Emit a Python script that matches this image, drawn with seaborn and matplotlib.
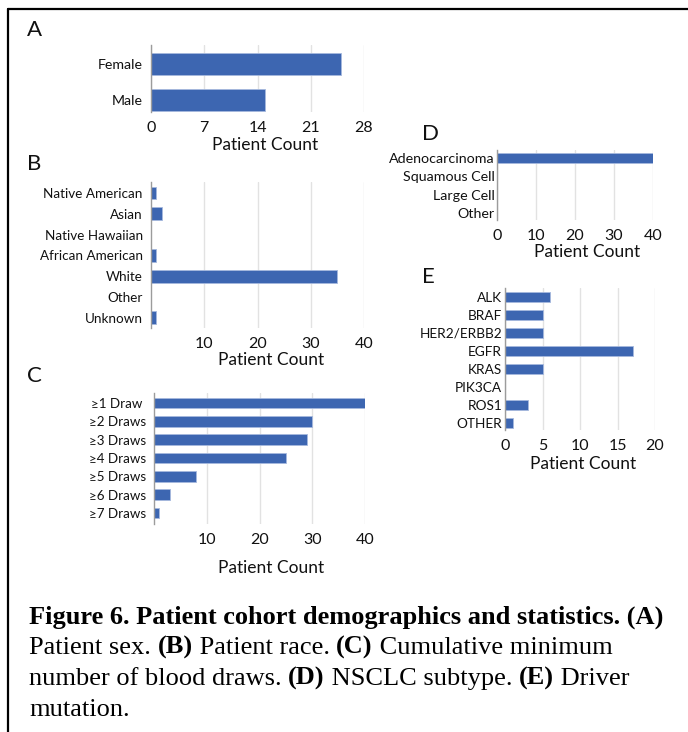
import pandas as pd
import seaborn as sns
import matplotlib.pyplot as plt
from matplotlib.lines import Line2D

# values
sex = ["Female", "Male"]
sex_n = [25, 15]

race = ["Native American", "Asian", "Native Hawaiian", "African American",
        "White", "Other", "Unknown"]
race_n = [1, 2, 0, 1, 35, 0, 1]

draws = ["≥1 Draw ", "≥2 Draws", "≥3 Draws", "≥4 Draws", "≥5 Draws",
         "≥6 Draws", "≥7 Draws"]
draws_n = [40, 30, 29, 25, 8, 3, 1]

subtype = ["Adenocarcinoma", "Squamous Cell", "Large Cell", "Other"]
subtype_n = [40, 0, 0, 0]

mutation = ["ALK", "BRAF", "HER2/ERBB2", "EGFR", "KRAS", "PIK3CA", "ROS1", "OTHER"]
mutation_n = [6, 5, 5, 17, 5, 0, 3, 1]

W, H = 688, 732
BLUE = "#3d66b1"
SANS = ["Lato", "DejaVu Sans"]
SERIF = ["Liberation Serif", "DejaVu Serif"]

sns.set_style("white")
plt.rcParams["font.family"] = SANS
plt.rcParams["text.color"] = "#111111"
plt.rcParams["axes.labelcolor"] = "#111111"
plt.rcParams["xtick.color"] = "#111111"
plt.rcParams["ytick.color"] = "#111111"

fig = plt.figure(figsize=(W / 100, H / 100), dpi=100)


def fx(px):
    return px / W


def fy(py):
    return 1 - py / H


def panel(letter, cats, counts, box, row0, step, xticks, xmax, bar_w,
          ypad, ysize, label_at, letter_at):
    left, top, right, bottom = box
    ax = fig.add_axes([fx(left), fy(bottom), (right - left) / W, (bottom - top) / H])
    df = pd.DataFrame({"cat": cats, "n": counts})
    sns.barplot(data=df, x="n", y="cat", orient="h", color=BLUE, saturation=1,
                width=bar_w, edgecolor="#a6b9de", linewidth=0.6, errorbar=None, ax=ax)
    n = len(cats)
    last = row0 + (n - 1) * step
    ax.set_ylim((n - 1) + (bottom - last) / step, -(row0 - top) / step)
    ax.set_xlim(0, xmax)
    ax.set_xticks(xticks)
    ax.grid(axis="x", color="#e2e2e2", lw=1)
    ax.grid(axis="y", visible=False)
    ax.set_axisbelow(True)
    for s in ["top", "right", "bottom"]:
        ax.spines[s].set_visible(False)
    ax.spines["left"].set_color("#9c9c9c")
    ax.spines["left"].set_linewidth(1)
    ax.tick_params(axis="both", length=0)
    ax.tick_params(axis="x", labelsize=11.5, pad=6.5)
    ax.tick_params(axis="y", labelsize=ysize, pad=ypad)
    ax.set_ylabel("")
    ax.set_xlabel("Patient Count", fontsize=12.5)
    ax.xaxis.set_label_coords(fx(label_at[0]), fy(label_at[1]), transform=fig.transFigure)
    fig.text(fx(letter_at[0]), fy(letter_at[1]), letter, fontsize=16,
             ha="left", va="top")
    return ax


panel("A", sex, sex_n, (151, 45, 364, 112), 64, 36, [0, 7, 14, 21, 28], 28,
      0.61, 6, 10.2, (265, 137), (27, 20))
panel("B", race, race_n, (151, 182, 364, 328), 193, 20.8, [10, 20, 30, 40], 40,
      0.61, 6, 9.7, (271, 352), (27, 154))
panel("C", draws, draws_n, (154, 393, 365, 524), 403, 18.33, [10, 20, 30, 40], 40,
      0.58, 6, 9.6, (271, 560), (27, 366))
panel("D", subtype, subtype_n, (497, 150, 653, 220), 158, 18.3, [0, 10, 20, 30, 40], 40,
      0.55, 1.5, 10.3, (587, 244), (422, 124))
panel("E", mutation, mutation_n, (505, 288, 655, 430), 297, 18, [0, 5, 10, 15, 20], 20,
      0.59, 2, 9.8, (583, 456), (422, 267))

# frame lines around the figure
fig.add_artist(Line2D([fx(8), fx(W)], [fy(9), fy(9)], color="black", lw=1.6))
fig.add_artist(Line2D([fx(8), fx(8)], [fy(9), fy(H)], color="black", lw=1.6))

# caption with mixed bold / regular runs
caption = [
    [("Figure 6. Patient cohort demographics and statistics. (A)", "bold")],
    [("Patient sex. ", "normal"), ("(B)", "bold"), (" Patient race. ", "normal"),
     ("(C)", "bold"), (" Cumulative minimum", "normal")],
    [("number of blood draws. ", "normal"), ("(D)", "bold"),
     (" NSCLC subtype. ", "normal"), ("(E)", "bold"), (" Driver", "normal")],
    [("mutation.", "normal")],
]
baselines = [624, 654, 685, 716]

renderer = fig.canvas.get_renderer()
for line, base in zip(caption, baselines):
    x = 29
    for txt, weight in line:
        t = fig.text(fx(x), fy(base), txt, fontsize=19, fontweight=weight,
                     family=SERIF, color="black", ha="left", va="baseline")
        x += t.get_window_extent(renderer).width

fig.savefig("out.png", dpi=100)
